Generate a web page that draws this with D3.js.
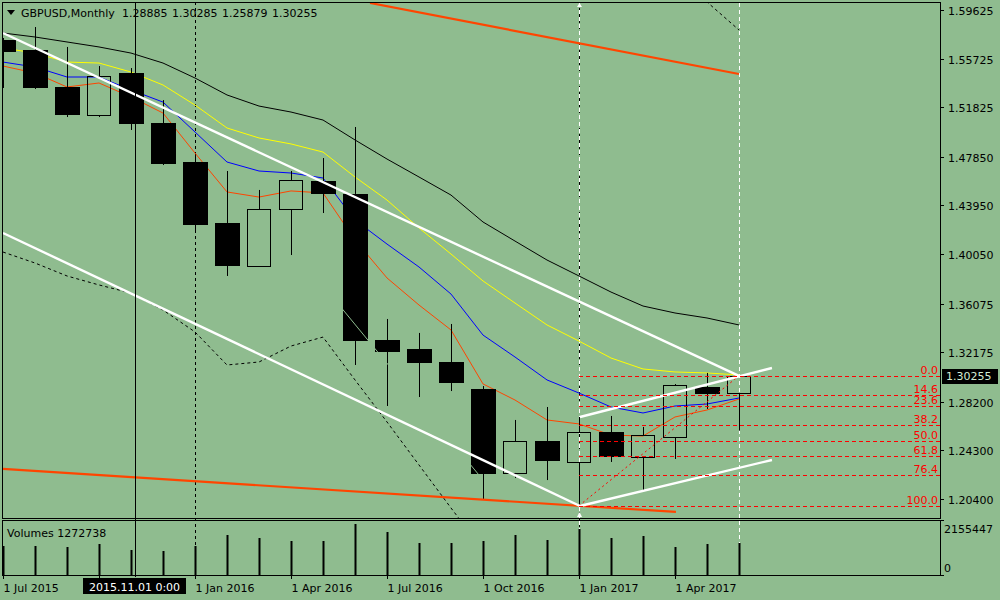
<!DOCTYPE html>
<html>
<head>
<meta charset="utf-8">
<script src="https://cdn.jsdelivr.net/npm/d3@7"></script>
<style>
body { margin: 0; background: #8fbc8f; }
svg { display: block; }
text { font-family: "DejaVu Sans", sans-serif; font-size: 11px; }
</style>
</head>
<body>
<svg id="chart" width="1000" height="600"></svg>
<script>
// GBPUSD, Monthly - Jul 2015 .. Jun 2017

// Bars
var open  = [1.5722,1.5642,1.5345,1.5120,1.5457,1.5056,1.4743,1.4254,1.3909,1.4366,1.4591,1.4487,
             1.3315,1.3243,1.3139,1.2922,1.2249,1.2505,1.2337,1.2577,1.2377,1.2537,1.2938,1.28885];
var high  = [1.5738,1.5826,1.5666,1.5513,1.5497,1.5240,1.4799,1.4671,1.4519,1.4671,1.4775,1.5024,
             1.3484,1.3372,1.3444,1.2946,1.2674,1.2778,1.2698,1.2706,1.2618,1.2962,1.3051,1.30285];
var low   = [1.5337,1.5329,1.5104,1.5104,1.5000,1.4719,1.4198,1.3829,1.3901,1.3997,1.4334,1.3115,
             1.2786,1.2858,1.2906,1.2040,1.2208,1.2192,1.1986,1.2337,1.2112,1.2361,1.2762,1.25879];
var close = [1.5626,1.5337,1.5120,1.5433,1.5048,1.4727,1.4238,1.3909,1.4366,1.4599,1.4487,1.3307,
             1.3219,1.3131,1.2970,1.2241,1.2505,1.2345,1.2577,1.2377,1.2553,1.2954,1.2882,1.30255];
var volume = [1157500,1157500,1117600,1237400,997900,958000,1157500,1596600,1476900,1357100,1357100,2035700,
              1716300,1277300,1277300,1357100,1596600,1397000,1836100,1476900,1556700,1117600,1237400,1272738];

// Moving averages
var maRed    = [1.5513,1.5457,1.5345,1.5377,1.5265,1.5136,1.4815,1.4503,1.4462,1.4511,1.4495,1.4118,
                1.3813,1.3596,1.3396,1.2963,1.2834,1.2674,1.2642,1.2553,1.2545,1.2698,1.2754,1.2842];
var maBlue   = [1.5545,1.5505,1.5425,1.5425,1.5321,1.5224,1.4984,1.4743,1.4671,1.4655,1.4615,1.4278,
                1.4085,1.3901,1.3684,1.3355,1.3179,1.2995,1.2890,1.2778,1.2730,1.2786,1.2802,1.2850];
var maYellow = [1.5658,1.5617,1.5545,1.5537,1.5465,1.5361,1.5200,1.5016,1.4936,1.4888,1.4823,1.4623,
                1.4438,1.4214,1.4005,1.3789,1.3612,1.3436,1.3307,1.3171,1.3083,1.3059,1.3051,1.3035];
var maBlack  = [1.5778,1.5746,1.5706,1.5666,1.5617,1.5537,1.5417,1.5281,1.5192,1.5144,1.5080,1.4920,
                1.4767,1.4623,1.4478,1.4262,1.4109,1.3957,1.3829,1.3700,1.3588,1.3532,1.3492,1.3436];
var dashSeries = [1.4021,1.3933,1.3829,1.3757,1.3692,1.3556,1.3380,1.3115,1.3139,1.3267,1.3339,1.2995,
                  1.2658,1.2313,1.1968,1.1631,null,null,null,null,null,1.6259,1.6027,1.5802];

// Drawn objects: [index0, price0, index1, price1]
var whiteLines = [[0,1.5778,23,1.3027],[0,1.4174,18.03,1.1984],[18.03,1.2698,24.03,1.3091],[18.03,1.1984,24.03,1.2353]];
var redLines   = [[11.47,1.6019,23,1.5449],[0,1.2281,21.03,1.1936]];
var hiddenLine = [10.22,1.3684,14.9,1.2224];
var fibHigh = 1.30285, fibLow = 1.1986, fibStart = 18, fibEnd = 23;
var fibLevels = [0, 14.6, 23.6, 38.2, 50, 61.8, 76.4, 100];
var separators = [6, 18];
var vLines = [18, 23];
var cursorIdx = 4.125;

// Axis labels
var priceTicks = [1.59625,1.55725,1.51825,1.47850,1.43950,1.40050,1.36075,1.32175,1.28200,1.24300,1.20400];
var dateTickIdx = [0,6,9,12,15,18,21];
var dateTickLabels = ["1 Jul 2015","1 Jan 2016","1 Apr 2016","1 Jul 2016","1 Oct 2016","1 Jan 2017","1 Apr 2017"];
var volMax = 2155447;

var svg = d3.select("#chart");
var L = 2, R = 940, T = 2, B = 518, VT = 520, VB = 575;

var x = d3.scaleLinear().domain([0, 23]).range([3, 739]);
var y = d3.scaleLinear().domain([1.204, 1.59625]).range([499, 10]);
var vy = d3.scaleLinear().domain([0, volMax]).range([VB, VT + 1]);

svg.append("rect").attr("width", 1000).attr("height", 600).attr("fill", "#8fbc8f");

var defs = svg.append("defs");
defs.append("clipPath").attr("id", "main").append("rect")
  .attr("x", L).attr("y", T).attr("width", R - L).attr("height", B - T);
defs.append("clipPath").attr("id", "vol").append("rect")
  .attr("x", L).attr("y", VT).attr("width", R - L).attr("height", VB - VT);

// period separators (full height, behind the bars)
separators.forEach(function(s) {
  svg.append("line").attr("x1", x(s) + 0.5).attr("x2", x(s) + 0.5).attr("y1", T).attr("y2", VB)
    .attr("stroke", "#000").attr("stroke-dasharray", "3,3");
});
// white vertical lines
vLines.forEach(function(s) {
  svg.append("line").attr("x1", x(s) + 0.5).attr("x2", x(s) + 0.5).attr("y1", T + 1).attr("y2", VB)
    .attr("stroke", "#fff").attr("stroke-dasharray", "4,3");
});

var g = svg.append("g").attr("clip-path", "url(#main)");
var gv = svg.append("g").attr("clip-path", "url(#vol)");

// moving averages
var line = d3.line().defined(function(d) { return d != null; })
  .x(function(d, i) { return x(i); }).y(function(d) { return y(d); });
[[maBlack, "#000"], [maYellow, "#ffff00"], [maBlue, "#0000ff"], [maRed, "#ff4500"]].forEach(function(m) {
  g.append("path").attr("d", line(m[0])).attr("fill", "none").attr("stroke", m[1]).attr("stroke-width", 1);
});
g.append("path").attr("d", line(dashSeries)).attr("fill", "none").attr("stroke", "#000")
  .attr("stroke-dasharray", "3,3");

// candles
open.forEach(function(o, i) {
  var c = close[i], cx = x(i) + 0.5;
  var top = y(Math.max(o, c)), bot = y(Math.min(o, c));
  g.append("line").attr("x1", cx).attr("x2", cx).attr("y1", y(high[i])).attr("y2", top).attr("stroke", "#000");
  g.append("line").attr("x1", cx).attr("x2", cx).attr("y1", bot).attr("y2", y(low[i])).attr("stroke", "#000");
  if (c < o) {
    g.append("rect").attr("x", x(i) - 12).attr("y", Math.round(top)).attr("width", 25)
      .attr("height", Math.max(1, Math.round(bot) - Math.round(top))).attr("fill", "#000");
  } else {
    g.append("rect").attr("x", x(i) - 11.5).attr("y", Math.round(top) + 0.5).attr("width", 23)
      .attr("height", Math.max(1, Math.round(bot) - Math.round(top))).attr("fill", "none")
      .attr("stroke", "#000").attr("stroke-width", 1);
  }
});

// line seen only across dark bodies
g.append("line").attr("x1", x(hiddenLine[0])).attr("y1", y(hiddenLine[1]))
  .attr("x2", x(hiddenLine[2])).attr("y2", y(hiddenLine[3])).attr("stroke", "#8fbc8f").attr("stroke-width", 1);

// fibonacci
fibLevels.forEach(function(r) {
  var p = fibHigh - r / 100 * (fibHigh - fibLow), yy = Math.round(y(p)) + 0.5;
  svg.append("line").attr("x1", x(fibStart)).attr("x2", R).attr("y1", yy).attr("y2", yy)
    .attr("stroke", "#ff0000").attr("stroke-dasharray", "4,3").attr("shape-rendering", "crispEdges");
  svg.append("text").attr("x", 938).attr("y", yy - 2.5).attr("text-anchor", "end")
    .attr("fill", "#ff0000").text(r.toFixed(1));
});
g.append("line").attr("x1", x(fibStart)).attr("y1", y(fibLow)).attr("x2", x(fibEnd)).attr("y2", y(fibHigh))
  .attr("stroke", "#ff0000").attr("stroke-dasharray", "2,3");

// trend lines
redLines.forEach(function(t) {
  g.append("line").attr("x1", x(t[0])).attr("y1", y(t[1])).attr("x2", x(t[2])).attr("y2", y(t[3]))
    .attr("stroke", "#ff4500").attr("stroke-width", 2.2);
});
whiteLines.forEach(function(t) {
  g.append("line").attr("x1", x(t[0])).attr("y1", y(t[1])).attr("x2", x(t[2])).attr("y2", y(t[3]))
    .attr("stroke", "#fff").attr("stroke-width", 2.4);
});
// anchors of the vertical line
svg.append("path").attr("d", "M577,7 L579.5,3 L582,7 Z").attr("fill", "#fff");
svg.append("path").attr("d", "M577,517 L579.5,512 L582,517 Z").attr("fill", "#fff");

// volumes
volume.forEach(function(v, i) {
  gv.append("rect").attr("x", x(i) - 0.5).attr("y", Math.round(vy(v))).attr("width", 2)
    .attr("height", VB - Math.round(vy(v))).attr("fill", "#000");
});

// cursor
svg.append("line").attr("x1", x(cursorIdx) + 0.5).attr("x2", x(cursorIdx) + 0.5).attr("y1", T).attr("y2", VB + 2)
  .attr("stroke", "#000");

// frames
var frame = svg.append("g").attr("fill", "none").attr("stroke", "#000").attr("shape-rendering", "crispEdges");
frame.append("rect").attr("x", L + 0.5).attr("y", T + 0.5).attr("width", R - L).attr("height", B - T);
frame.append("rect").attr("x", L + 0.5).attr("y", VT + 0.5).attr("width", R - L).attr("height", VB - VT);

// price axis
priceTicks.forEach(function(p) {
  var yy = Math.round(y(p)) + 0.5;
  svg.append("line").attr("x1", R).attr("x2", R + 4).attr("y1", yy).attr("y2", yy).attr("stroke", "#000");
  svg.append("text").attr("x", 948).attr("y", yy + 4).attr("fill", "#000").text(p.toFixed(5));
});
svg.append("line").attr("x1", R).attr("x2", R + 4).attr("y1", VT + 0.5).attr("y2", VT + 0.5).attr("stroke", "#000");
svg.append("line").attr("x1", R).attr("x2", R + 4).attr("y1", VB + 0.5).attr("y2", VB + 0.5).attr("stroke", "#000");
svg.append("text").attr("x", 944).attr("y", 533).text(volMax);
svg.append("text").attr("x", 944).attr("y", 572).text("0");

// current price box
var cp = close[close.length - 1];
svg.append("rect").attr("x", 942).attr("y", Math.round(y(cp)) - 7).attr("width", 56).attr("height", 15).attr("fill", "#000");
svg.append("text").attr("x", 946).attr("y", Math.round(y(cp)) + 4).attr("fill", "#d4ecd4").text(cp.toFixed(5));

// date axis
dateTickIdx.forEach(function(d, k) {
  var xx = x(d) + 0.5;
  svg.append("line").attr("x1", xx).attr("x2", xx).attr("y1", VB).attr("y2", VB + 4).attr("stroke", "#000");
  svg.append("text").attr("x", xx).attr("y", 592).text(dateTickLabels[k]);
});
svg.append("line").attr("x1", x(3) + 0.5).attr("x2", x(3) + 0.5).attr("y1", VB).attr("y2", VB + 4).attr("stroke", "#000");
svg.append("rect").attr("x", 83).attr("y", 578).attr("width", 103).attr("height", 16).attr("fill", "#000");
svg.append("text").attr("x", 134.5).attr("y", 591).attr("text-anchor", "middle").attr("fill", "#fff").text("2015.11.01 0:00");

// titles
svg.append("path").attr("d", "M7,10 L15,10 L11,15 Z").attr("fill", "#000");
svg.append("text").attr("x", 21).attr("y", 17).text("GBPUSD,Monthly");
[open[23], high[23], low[23], close[23]].forEach(function(v, k) {
  svg.append("text").attr("x", 122 + 50 * k).attr("y", 17).text(v.toFixed(5));
});
svg.append("text").attr("x", 7).attr("y", 537).text("Volumes " + volume[volume.length - 1]);
</script>
</body>
</html>
